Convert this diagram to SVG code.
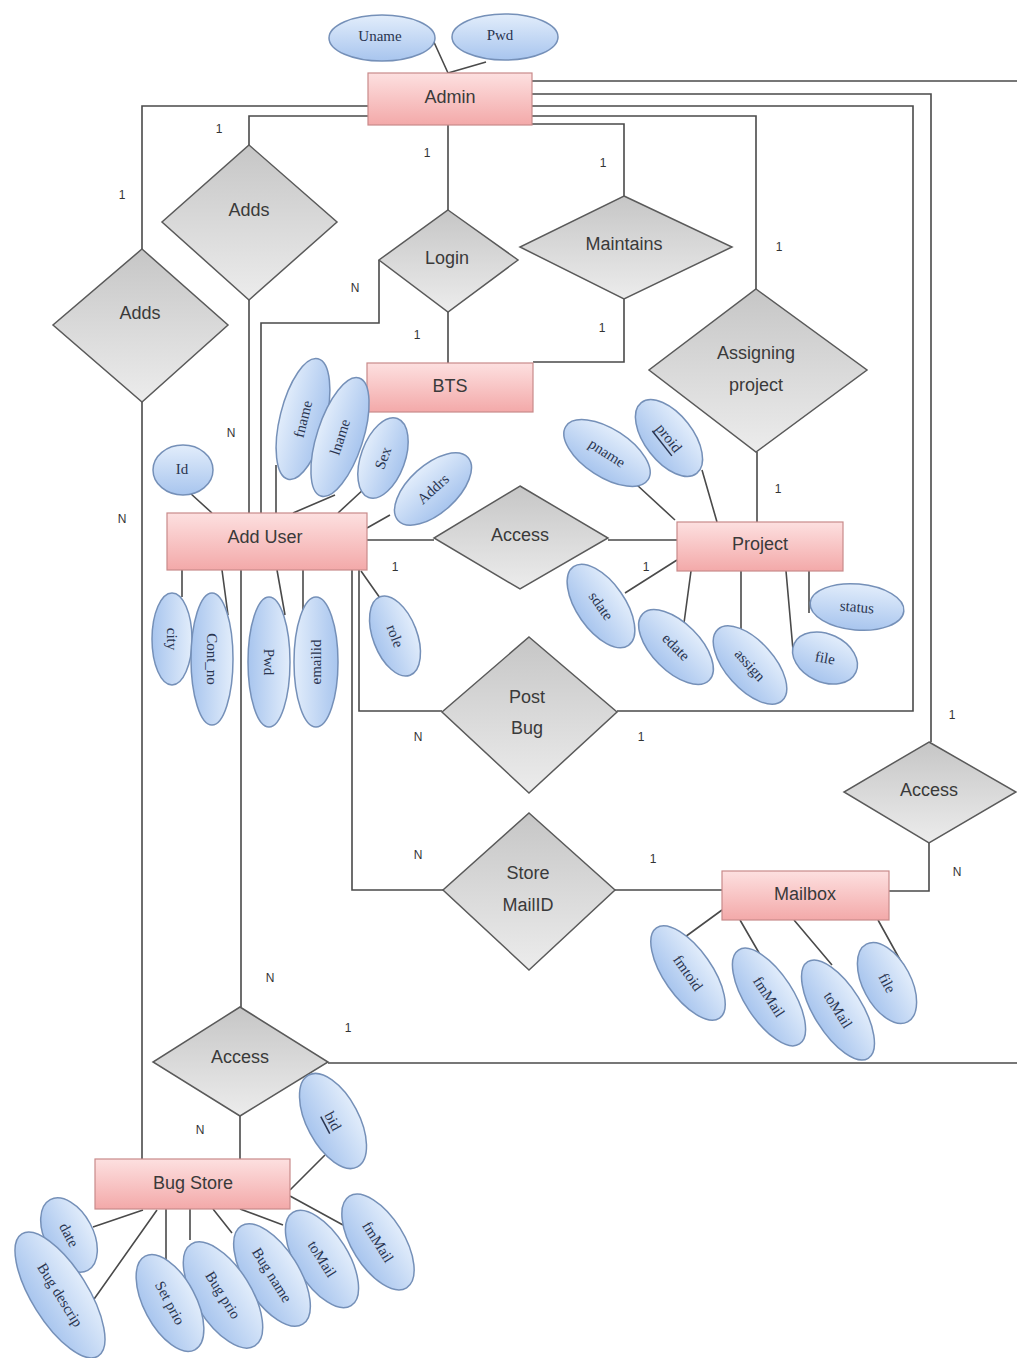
<svg xmlns="http://www.w3.org/2000/svg" width="1017" height="1358" viewBox="0 0 1017 1358">
<defs>
<linearGradient id="gEnt" x1="0" y1="0" x2="0" y2="1"><stop offset="0" stop-color="#fde0e0"/><stop offset="1" stop-color="#f3a9a9"/></linearGradient>
<linearGradient id="gRel" x1="0" y1="0" x2="0" y2="1"><stop offset="0" stop-color="#c6c6c6"/><stop offset="1" stop-color="#ececec"/></linearGradient>
<linearGradient id="gAtt" x1="0" y1="0" x2="0" y2="1"><stop offset="0" stop-color="#e2edfb"/><stop offset="1" stop-color="#a8c5ee"/></linearGradient>
</defs>
<style>
.c{fill:none;stroke:#4a4a4a;stroke-width:1.6}
.ent{fill:url(#gEnt);stroke:#c98a8a;stroke-width:1.2}
.rel{fill:url(#gRel);stroke:#5a5a5a;stroke-width:1.5}
.att{fill:url(#gAtt);stroke:#7590b8;stroke-width:1.5}
.t{font-family:"Liberation Sans",Arial,sans-serif;font-size:18px;fill:#3a3a3a;text-anchor:middle;dominant-baseline:central}
.a{font-family:"Liberation Serif","Times New Roman",serif;font-size:15px;fill:#2a3550;text-anchor:middle;dominant-baseline:central}
.k{font-family:"Liberation Sans",Arial,sans-serif;font-size:12px;fill:#333333;text-anchor:middle;dominant-baseline:central}
</style>
<rect width="1017" height="1358" fill="#ffffff"/>
<g id="connectors">
<path class="c" d="M433 40L448 73M486 62L448 73"/>
<path class="c" d="M532 81H1017"/>
<path class="c" d="M532 94H931V742"/>
<path class="c" d="M532 106H913V711H617"/>
<path class="c" d="M532 116H756V289"/>
<path class="c" d="M532 124H624V196"/>
<path class="c" d="M368 106H142V249"/>
<path class="c" d="M368 116H249V145"/>
<path class="c" d="M448 125V210M448 312V363"/>
<path class="c" d="M379 260V323H261V513"/>
<path class="c" d="M624 299V362H533"/>
<path class="c" d="M249 300V513"/>
<path class="c" d="M142 402V1159"/>
<path class="c" d="M367 540H434M608 540H677"/>
<path class="c" d="M757 452V522"/>
<path class="c" d="M359 570V711H442"/>
<path class="c" d="M352 570V890H443M615 890H722"/>
<path class="c" d="M889 891H929V843"/>
<path class="c" d="M241 570V1007M240 1116V1159"/>
<path class="c" d="M328 1063H1017"/>
<path class="c" d="M190 493L212 513M276 465V513M293 513L335 495M338 513L365 488M390 515L367 528"/>
<path class="c" d="M182 570V597M222 570L228 615M277 570L285 615M303 570V618M361 571L380 598"/>
<path class="c" d="M637 485L675 520M702 470L717 522M625 593L677 560M684 623L691 571M741 632V571M793 650L786 571M809 613V571"/>
<path class="c" d="M685 937L722 910M762 958L740 920M832 965L794 920M904 967L878 920"/>
<path class="c" d="M325 1155L290 1190M343 1225L290 1196M283 1225L240 1209M232 1233L213 1209M190 1240V1209M166 1260V1209M93 1227L143 1210M92 1302L157 1210"/>
</g>
<g id="admin"><rect class="ent" x="368" y="73" width="164" height="52"/><text class="t" x="450" y="97">Admin</text></g>
<g id="bts"><rect class="ent" x="367" y="363" width="166" height="49"/><text class="t" x="450" y="386">BTS</text></g>
<g id="adduser"><rect class="ent" x="167" y="513" width="200" height="57"/><text class="t" x="265" y="537">Add User</text></g>
<g id="project"><rect class="ent" x="677" y="522" width="166" height="49"/><text class="t" x="760" y="544">Project</text></g>
<g id="mailbox"><rect class="ent" x="722" y="871" width="167" height="49"/><text class="t" x="805" y="894">Mailbox</text></g>
<g id="bugstore"><rect class="ent" x="95" y="1159" width="195" height="50"/><text class="t" x="193" y="1183">Bug Store</text></g>
<g id="adds1"><polygon class="rel" points="249,145 337,222 249,300 162,222"/><text class="t" x="249" y="210">Adds</text></g>
<g id="adds2"><polygon class="rel" points="142,249 228,325 142,402 53,325"/><text class="t" x="140" y="313">Adds</text></g>
<g id="login"><polygon class="rel" points="448,210 518,260 448,312 379,260"/><text class="t" x="447" y="258">Login</text></g>
<g id="maintains"><polygon class="rel" points="624,196 732,247 624,299 520,247"/><text class="t" x="624" y="244">Maintains</text></g>
<g id="assigning"><polygon class="rel" points="756,289 867,370 756,452 649,370"/><text class="t" x="756" y="353">Assigning</text><text class="t" x="756" y="385">project</text></g>
<g id="access1"><polygon class="rel" points="520,486 608,538 520,589 434,538"/><text class="t" x="520" y="535">Access</text></g>
<g id="postbug"><polygon class="rel" points="529,637 617,712 529,793 442,712"/><text class="t" x="527" y="697">Post</text><text class="t" x="527" y="728">Bug</text></g>
<g id="storemail"><polygon class="rel" points="529,813 615,890 529,970 443,890"/><text class="t" x="528" y="873">Store</text><text class="t" x="528" y="905">MailID</text></g>
<g id="access2"><polygon class="rel" points="929,742 1016,792 929,843 844,792"/><text class="t" x="929" y="790">Access</text></g>
<g id="access3"><polygon class="rel" points="240,1007 328,1062 240,1116 153,1062"/><text class="t" x="240" y="1057">Access</text></g>
<g id="a-uname"><ellipse class="att" cx="382" cy="38" rx="53" ry="23"/><text class="a" x="380" y="36">Uname</text></g>
<g id="a-pwd"><ellipse class="att" cx="505" cy="37" rx="53" ry="23"/><text class="a" x="500" y="35">Pwd</text></g>
<g id="a-id"><ellipse class="att" cx="183" cy="470" rx="30" ry="25"/><text class="a" x="182" y="469">Id</text></g>
<g id="a-fname" transform="translate(303 419) rotate(-76)"><ellipse class="att" rx="62" ry="23"/><text class="a">fname</text></g>
<g id="a-lname" transform="translate(340 437) rotate(-72)"><ellipse class="att" rx="62" ry="23"/><text class="a">lname</text></g>
<g id="a-sex" transform="translate(383 458) rotate(-70)"><ellipse class="att" rx="42" ry="22"/><text class="a">Sex</text></g>
<g id="a-addrs" transform="translate(433 489) rotate(-42)"><ellipse class="att" rx="47" ry="24"/><text class="a">Addrs</text></g>
<g id="a-city" transform="translate(172 639) rotate(90)"><ellipse class="att" rx="46" ry="20"/><text class="a">city</text></g>
<g id="a-contno" transform="translate(212 659) rotate(90)"><ellipse class="att" rx="66" ry="21"/><text class="a">Cont_no</text></g>
<g id="a-upwd" transform="translate(269 662) rotate(90)"><ellipse class="att" rx="65" ry="21"/><text class="a">Pwd</text></g>
<g id="a-emailid" transform="translate(316 662) rotate(-90)"><ellipse class="att" rx="65" ry="22"/><text class="a">emailid</text></g>
<g id="a-role" transform="translate(395 636) rotate(69)"><ellipse class="att" rx="42" ry="22"/><text class="a">role</text></g>
<g id="a-pname" transform="translate(607 453) rotate(33)"><ellipse class="att" rx="49" ry="24"/><text class="a">pname</text></g>
<g id="a-proid" transform="translate(669 438) rotate(52)"><ellipse class="att" rx="45" ry="24"/><text class="a" text-decoration="underline">proid</text></g>
<g id="a-sdate" transform="translate(601 606) rotate(55)"><ellipse class="att" rx="48" ry="24"/><text class="a">sdate</text></g>
<g id="a-edate" transform="translate(676 647) rotate(45)"><ellipse class="att" rx="47" ry="24"/><text class="a">edate</text></g>
<g id="a-assign" transform="translate(750 665) rotate(48)"><ellipse class="att" rx="48" ry="24"/><text class="a">assign</text></g>
<g id="a-pfile" transform="translate(825 658) rotate(25)"><ellipse class="att" rx="34" ry="24"/><text class="a" transform="rotate(-15)">file</text></g>
<g id="a-status" transform="translate(857 607) rotate(5)"><ellipse class="att" rx="47" ry="23"/><text class="a">status</text></g>
<g id="a-fmtoid" transform="translate(688 973) rotate(55)"><ellipse class="att" rx="55" ry="24"/><text class="a">fmtoid</text></g>
<g id="a-mfmmail" transform="translate(769 997) rotate(57)"><ellipse class="att" rx="56" ry="24"/><text class="a">fmMail</text></g>
<g id="a-mtomail" transform="translate(838 1010) rotate(58)"><ellipse class="att" rx="57" ry="24"/><text class="a">toMail</text></g>
<g id="a-mfile" transform="translate(887 983) rotate(62)"><ellipse class="att" rx="44" ry="24"/><text class="a">file</text></g>
<g id="a-bid" transform="translate(333 1121) rotate(62)"><ellipse class="att" rx="52" ry="26"/><text class="a" text-decoration="underline">bid</text></g>
<g id="a-bfmmail" transform="translate(378 1242) rotate(58)"><ellipse class="att" rx="54" ry="26"/><text class="a">fmMail</text></g>
<g id="a-btomail" transform="translate(322 1259) rotate(58)"><ellipse class="att" rx="55" ry="26"/><text class="a">toMail</text></g>
<g id="a-bugname" transform="translate(272 1275) rotate(58)"><ellipse class="att" rx="58" ry="27"/><text class="a">Bug name</text></g>
<g id="a-bugprio" transform="translate(223 1295) rotate(58)"><ellipse class="att" rx="60" ry="28"/><text class="a">Bug prio</text></g>
<g id="a-setprio" transform="translate(170 1303) rotate(62)"><ellipse class="att" rx="53" ry="26"/><text class="a">Set prio</text></g>
<g id="a-date" transform="translate(69 1235) rotate(62)"><ellipse class="att" rx="40" ry="24"/><text class="a" fill="#2f5a4a">date</text></g>
<g id="a-bugdesc" transform="translate(60 1295) rotate(58)"><ellipse class="att" rx="72" ry="28"/><text class="a">Bug descrip</text></g>
<g id="cardinality">
<text class="k" x="219" y="129">1</text>
<text class="k" x="122" y="195">1</text>
<text class="k" x="427" y="153">1</text>
<text class="k" x="355" y="288">N</text>
<text class="k" x="417" y="335">1</text>
<text class="k" x="603" y="163">1</text>
<text class="k" x="602" y="328">1</text>
<text class="k" x="779" y="247">1</text>
<text class="k" x="231" y="433">N</text>
<text class="k" x="122" y="519">N</text>
<text class="k" x="395" y="567">1</text>
<text class="k" x="646" y="567">1</text>
<text class="k" x="778" y="489">1</text>
<text class="k" x="418" y="737">N</text>
<text class="k" x="641" y="737">1</text>
<text class="k" x="952" y="715">1</text>
<text class="k" x="957" y="872">N</text>
<text class="k" x="418" y="855">N</text>
<text class="k" x="653" y="859">1</text>
<text class="k" x="270" y="978">N</text>
<text class="k" x="348" y="1028">1</text>
<text class="k" x="200" y="1130">N</text>
</g>
</svg>
